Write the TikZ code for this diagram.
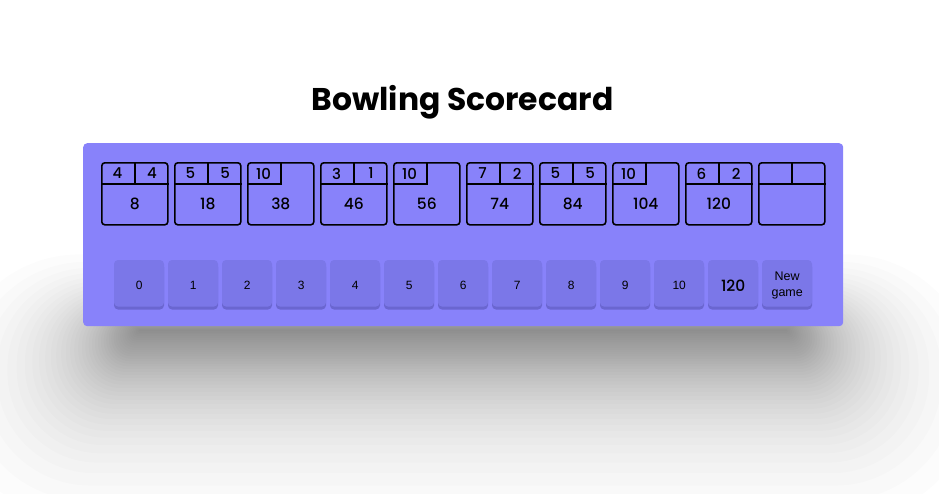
\documentclass[tikz,border=0pt]{standalone}
\usepackage{fontspec}
\setmainfont{Poppins}
\newfontfamily\pop{Poppins}
\newfontfamily\popm{Poppins}[UprightFont={* Medium}]
\newfontfamily\arialish{Liberation Sans}
\definecolor{panel}{HTML}{8882FA}
\definecolor{btn}{HTML}{7B77E8}
\definecolor{btndark}{HTML}{6A66D0}
\tikzset{
  frameline/.style={line width=1.6pt, black},
  topnum/.style={font=\popm\fontsize{15}{15}\selectfont, inner sep=0pt, anchor=center},
  scorenum/.style={font=\popm\fontsize{15.5}{15.5}\selectfont, inner sep=0pt, anchor=center},
  btnlabel/.style={font=\arialish\fontsize{12}{16}\selectfont, inner sep=0pt, anchor=center, align=center},
}
\begin{document}
\begin{tikzpicture}[x=1pt,y=-1pt]
\useasboundingbox (0,0) rectangle (939,493);
\fill[white] (0,0) rectangle (939,493);
% soft shadow: stacked layers, exponential fall-off, rounded outlines
\foreach \k in {3,...,44}{
  \pgfmathsetmacro{\e}{74*ln(45/(\k+0.5))}
  \pgfmathsetmacro{\xl}{140-\e}
  \pgfmathsetmacro{\xr}{786+\e}
  \pgfmathsetmacro{\yt}{330-0.4*\e}
  \pgfmathsetmacro{\yb}{330+\e}
  \pgfmathsetmacro{\rr}{0.68*\e}
  \fill[black, opacity=0.0113, rounded corners=\rr pt] (\xl,\yt) rectangle (\xr,\yb);
}
% panel
\node[draw=none, fill=panel, rounded corners=4pt, minimum width=760pt, minimum height=183pt, inner sep=0pt, anchor=north west] (panel) at (83,143) {};
% title
\node[font=\pop\bfseries\fontsize{31.4}{31.4}\selectfont, inner sep=0pt, anchor=base] (title) at (462.5,110) {Bowling Scorecard};
% frames
\foreach \k/\a/\b/\s/\t in {0/4/4/8/n,1/5/5/18/n,2/10//38/x,3/3/1/46/n,4/10//56/x,5/7/2/74/n,6/5/5/84/n,7/10//104/x,8/6/2/120/n,9///{}/e}{
  \pgfmathsetmacro{\xx}{101+73*\k}
  \node[draw, frameline, rounded corners=3pt, minimum width=66pt, minimum height=62pt, inner sep=0pt, anchor=north west] (f\k) at (\xx,162) {};
  \if\t x
    \draw[frameline] (f\k.north) |- ([yshift=-22pt]f\k.north west);
    \node[topnum] (fa\k) at ([xshift=16.5pt,yshift=-11.5pt]f\k.north west) {\a};
  \else
    \draw[frameline] ([yshift=-22pt]f\k.north west) -- ([yshift=-22pt]f\k.north east);
    \draw[frameline] (f\k.north) -- ([yshift=-22pt]f\k.north);
    \node[topnum] (fa\k) at ([xshift=16.5pt,yshift=-11.5pt]f\k.north west) {\a};
    \node[topnum] (fb\k) at ([xshift=-16.5pt,yshift=-11.5pt]f\k.north east) {\b};
  \fi
  \node[scorenum] (fs\k) at ([yshift=-42pt]f\k.north) {\s};
}
% buttons
\foreach \k/\l in {0/0,1/1,2/2,3/3,4/4,5/5,6/6,7/7,8/8,9/9,10/10,11/{},12/{}}{
  \pgfmathsetmacro{\xx}{114+54*\k}
  \fill[btndark, rounded corners=4pt] (\xx,263) rectangle ({\xx+50},309.5);
  \fill[btn, rounded corners=4pt] (\xx,260) rectangle ({\xx+50},306.5);
  \node[inner sep=0pt, minimum width=50pt, minimum height=49pt, anchor=north west] (b\k) at (\xx,260) {};
  \node[btnlabel] (bl\k) at ([yshift=-1pt]b\k.center) {\l};
}
\node[font=\popm\fontsize{15.5}{15.5}\selectfont, inner sep=0pt] (bl11) at ([yshift=-1pt]b11.center) {120};
\node[btnlabel, font=\arialish\fontsize{12.5}{16}\selectfont] (bl12) at ([yshift=-0.5pt]b12.center) {New\\game};
\end{tikzpicture}
\end{document}
